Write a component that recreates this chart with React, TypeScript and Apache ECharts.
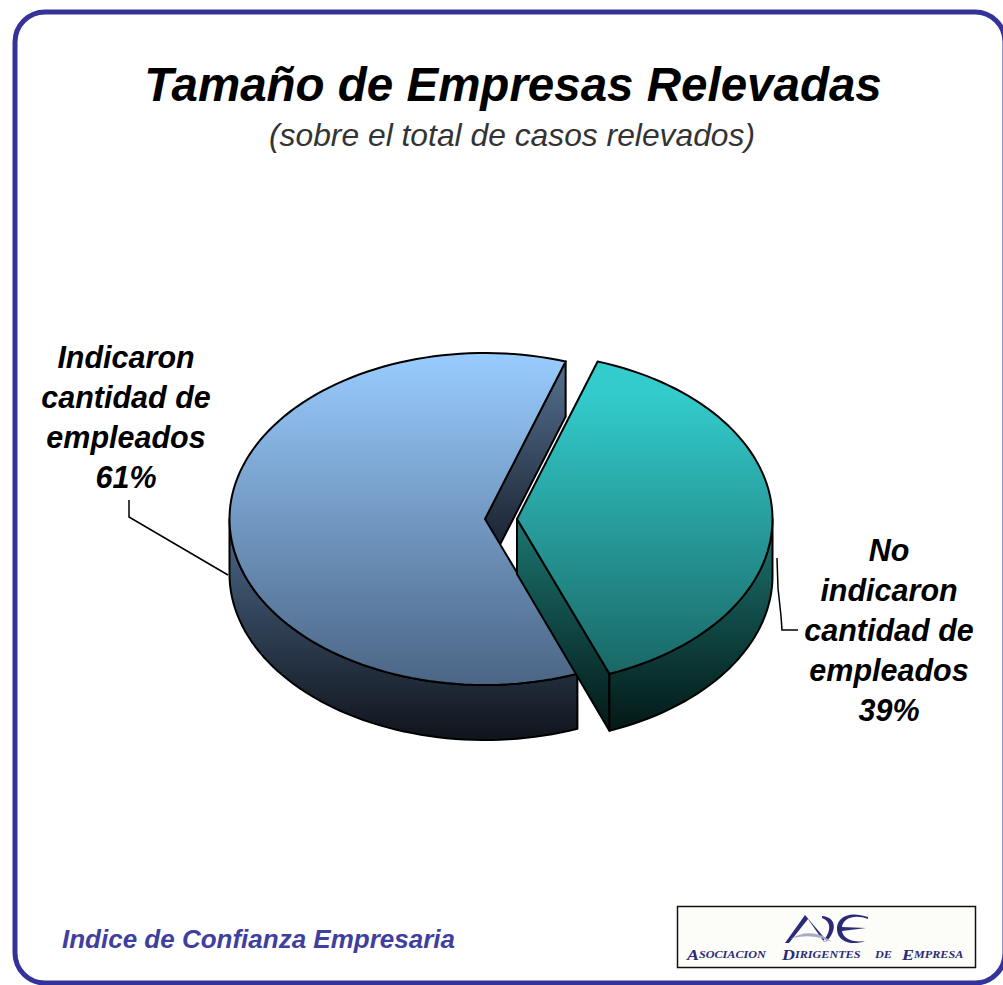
import React, { useEffect, useRef } from "react";
import * as echarts from "echarts";

const titleText = "Tamaño de Empresas Relevadas";
const subtitleText = "(sobre el total de casos relevados)";
const footerText = "Indice de Confianza Empresaria";
const categories = ["Indicaron\ncantidad de\nempleados", "No\nindicaron\ncantidad de\nempleados"];
const values = [61, 39];

const START_DEG = 18.4;
const centers = [[485, 519], [517, 519]];
const RX = 255.5;
const RY = 166;
const DEPTH = 55;

const topStops = [
  [[0, "#99CCFF"], [1, "#4B6585"]],
  [[0, "#33CCCC"], [0.12, "#33CCCC"], [1, "#196361"]],
];
const wallStops = [
  [[0, "#4A6585"], [1, "#10141B"]],
  [[0, "#1B716D"], [1, "#021412"]],
];

echarts.graphic.registerShape(
  "adeMark",
  echarts.graphic.extendPath(
    "M805 915L785 943L789 943L808 919L824 942L827 941ZM822 916C836 917 838 930 826 942L823 941C832 931 831 921 822 918ZM868 917C848 910 836 918 837 930C838 942 852 946 865 941C852 943 843 938 842 931L866 928L842 927C843 918 855 914 868 919Z",
    {}
  )
);
echarts.graphic.registerShape(
  "adeSwoosh",
  echarts.graphic.extendPath("M790 939C805 930 820 932 832 942C820 936 805 934 790 939Z", {})
);

function gradient(y0: number, y1: number, stops: any[]) {
  return new echarts.graphic.LinearGradient(
    0, y0, 0, y1,
    stops.map(([offset, color]) => ({ offset, color })),
    true
  );
}

function arcPoints(cx: number, cy: number, a0: number, a1: number, dy = 0) {
  const pts: number[][] = [];
  const n = Math.max(2, Math.ceil(Math.abs(a1 - a0) / 2));
  for (let i = 0; i <= n; i++) {
    const a = ((a0 + ((a1 - a0) * i) / n) * Math.PI) / 180;
    pts.push([cx + RX * Math.sin(a), cy - RY * Math.cos(a) + dy]);
  }
  return pts;
}

function renderSlice(params: any, api: any) {
  const i = params.dataIndex;
  const total = values.reduce((s, v) => s + v, 0);
  const span = (api.value(0) / total) * 360;
  // Second value (39) starts at START_DEG, the first follows it clockwise.
  const a0 = i === 1 ? START_DEG : START_DEG + (values[1] / total) * 360;
  const a1 = a0 + span;
  const [cx, cy] = centers[i];
  const edge = { stroke: "#000", lineWidth: 2, lineJoin: "round" };
  const wallFill = gradient(530, 740, wallStops[i]);
  const children: any[] = [];

  const p1 = arcPoints(cx, cy, a1, a1)[0];

  if (i === 0) {
    // inner wall seen through the gap
    children.push({
      type: "polygon",
      shape: { points: [[cx, cy], p1, [p1[0], p1[1] + DEPTH], [cx, cy + DEPTH]] },
      style: { fill: gradient(362, 548, [[0, "#55708F"], [1, "#1A2330"]]), ...edge },
    });
    // outer wall, lower-left part
    const upper = arcPoints(cx, cy, a0, 270);
    const lower = arcPoints(cx, cy, a0, 270, DEPTH).reverse();
    children.push({
      type: "polygon",
      shape: { points: [...upper, ...lower] },
      style: { fill: wallFill, ...edge },
    });
  } else {
    children.push({
      type: "polygon",
      shape: { points: [[cx, cy], p1, [p1[0], p1[1] + DEPTH + 2], [cx, cy + DEPTH]] },
      style: { fill: wallFill, ...edge },
    });
    const upper = arcPoints(cx, cy, 90, a1);
    const lower = arcPoints(cx, cy, 90, a1, DEPTH + 2).reverse();
    children.push({
      type: "polygon",
      shape: { points: [...upper, ...lower] },
      style: { fill: wallFill, ...edge },
    });
  }
  children.push({
    type: "polygon",
    shape: { points: [[cx, cy], ...arcPoints(cx, cy, a0, a1)] },
    style: { fill: gradient(cy - RY, cy + RY, topStops[i]), ...edge },
  });
  return { type: "group", children };
}

export default function App() {
  const ref = useRef<HTMLDivElement>(null);
  useEffect(() => {
    document.body.style.margin = "0";
    document.body.style.overflow = "hidden";
    const chart = echarts.init(ref.current!, undefined, { renderer: "svg" });
    const labelFont = 'italic bold 30.5px "Liberation Sans"';
    const serif = (fontSize: number) => ({
      fontFamily: "Liberation Serif",
      fontWeight: "bold" as const,
      fontStyle: "italic" as const,
      fontSize,
      fill: "#2A2A78",
      color: "#2A2A78",
    });
    const small = { a: serif(14), b: serif(9.5) };
    const logoWord = (x: number, y: number, text: string) => ({
      type: "text",
      x,
      y,
      scaleX: 1.28,
      style: {
        text,
        rich: small,
        align: "left",
        verticalAlign: "middle",
        fontFamily: "Liberation Serif",
        fontStyle: "italic",
      },
    });
    chart.setOption({
      animation: false,
      backgroundColor: "#fff",
      title: [
        {
          text: titleText,
          left: 508,
          top: 55,
          textAlign: "center",
          textStyle: { fontFamily: "Liberation Sans", fontStyle: "italic", fontWeight: "bold", fontSize: 47.5, color: "#000" },
        },
        {
          text: subtitleText,
          left: 507,
          top: 114,
          textAlign: "center",
          textStyle: { fontFamily: "Liberation Sans", fontStyle: "italic", fontWeight: "normal", fontSize: 31.8, color: "#333" },
        },
        {
          text: footerText,
          left: 57,
          top: 921,
          textStyle: { fontFamily: "Liberation Sans", fontStyle: "italic", fontWeight: "bold", fontSize: 26, color: "#3F3FA0" },
        },
      ],
      series: [
        {
          type: "custom",
          coordinateSystem: "none",
          silent: true,
          renderItem: renderSlice,
          data: categories.map((name, i) => ({ name, value: [values[i], i] })),
        },
      ],
      graphic: [
        {
          type: "rect",
          z: -1,
          shape: { x: 15, y: 12, width: 990, height: 971, r: 30 },
          style: { fill: "#fff", stroke: "#333399", lineWidth: 5 },
        },
        {
          type: "text",
          x: 126,
          y: 417,
          style: {
            text: `${categories[0]}\n${values[0]}%`,
            font: labelFont,
            fill: "#000",
            align: "center",
            verticalAlign: "middle",
            lineHeight: 40,
          },
        },
        {
          type: "text",
          x: 889,
          y: 630,
          style: {
            text: `${categories[1]}\n${values[1]}%`,
            font: labelFont,
            fill: "#000",
            align: "center",
            verticalAlign: "middle",
            lineHeight: 40,
          },
        },
        {
          type: "polyline",
          shape: { points: [[129, 500], [129, 517], [228, 575]] },
          style: { fill: "none", stroke: "#000", lineWidth: 1.5 },
        },
        {
          type: "polyline",
          shape: { points: [[777, 558], [778, 588], [781, 616], [782, 630], [798, 630]] },
          style: { fill: "none", stroke: "#000", lineWidth: 1.5 },
        },
        {
          type: "rect",
          shape: { x: 677.5, y: 906.5, width: 298, height: 61 },
          style: { fill: "#FCFCF8", stroke: "#111", lineWidth: 1.5 },
        },
        { type: "adeMark", style: { fill: "#2A2A78" } },
        { type: "adeSwoosh", style: { fill: "#A8A8C8" } },
        logoWord(687, 955, "{a|A}{b|SOCIACION}"),
        logoWord(782, 955, "{a|D}{b|IRIGENTES}"),
        logoWord(875, 955, "{b|DE}"),
        logoWord(902, 955, "{a|E}{b|MPRESA}"),
      ],
    });
    return () => chart.dispose();
  }, []);
  return <div ref={ref} style={{ position: "absolute", left: 0, top: 0, width: 1003, height: 985 }} />;
}
